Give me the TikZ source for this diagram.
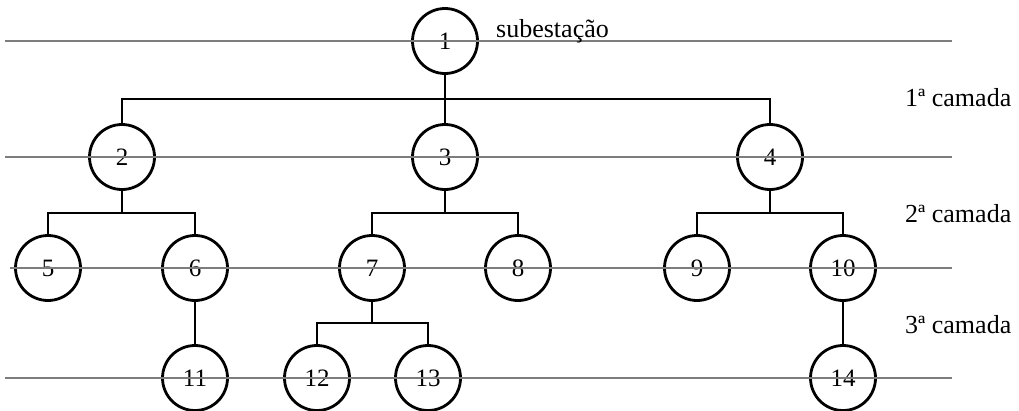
\documentclass[tikz,border=0pt]{standalone}
\usepackage{fontspec}
\setmainfont{Liberation Serif}
\definecolor{layergray}{RGB}{125,125,125}
\begin{document}
\begin{tikzpicture}[x=1pt,y=-1pt,
  nd/.style={circle,draw,line width=2.8pt,minimum size=65pt,inner sep=0pt,font=\fontsize{25}{25}\selectfont},
  conn/.style={line width=1.5pt},
  layer/.style={draw=layergray,line width=1.4pt},
  lbl/.style={font=\fontsize{26}{26}\selectfont,anchor=base west,inner sep=0pt}]
\useasboundingbox (0,0) rectangle (1019,410);
% nodes
\node[nd] (n1) at (445,41) {1};
\node[nd] (n2) at (122,157) {2};
\node[nd] (n3) at (445,157) {3};
\node[nd] (n4) at (770,157) {4};
\node[nd] (n5) at (48,268) {5};
\node[nd] (n6) at (195,268) {6};
\node[nd] (n7) at (372,268) {7};
\node[nd] (n8) at (518,268) {8};
\node[nd] (n9) at (697,268) {9};
\node[nd] (n10) at (843,268) {10};
\node[nd] (n11) at (195,378) {11};
\node[nd] (n12) at (317,378) {12};
\node[nd] (n13) at (428,378) {13};
\node[nd] (n14) at (843,378) {14};
% branch points
\coordinate (b1) at (445,99);
\coordinate (b2) at (122,213);
\coordinate (b3) at (445,213);
\coordinate (b4) at (770,213);
\coordinate (b7) at (372,323);
% connectors
\draw[conn] (n1.south) -- (b1);
\draw[conn] (n2.north) |- (b1) -| (n4.north);
\draw[conn] (b1) -- (n3.north);
\draw[conn] (n2.south) -- (b2);
\draw[conn] (n5.north) |- (b2) -| (n6.north);
\draw[conn] (n3.south) -- (b3);
\draw[conn] (n7.north) |- (b3) -| (n8.north);
\draw[conn] (n4.south) -- (b4);
\draw[conn] (n9.north) |- (b4) -| (n10.north);
\draw[conn] (n6.south) -- (n11.north);
\draw[conn] (n7.south) -- (b7);
\draw[conn] (n12.north) |- (b7) -| (n13.north);
\draw[conn] (n10.south) -- (n14.north);
% layer lines
\coordinate (l1a) at (5,41);   \coordinate (l1b) at (952,41);
\coordinate (l2a) at (5,157);  \coordinate (l2b) at (952,157);
\coordinate (l3a) at (10,268); \coordinate (l3b) at (952,268);
\coordinate (l4a) at (5,378);  \coordinate (l4b) at (952,378);
\draw[layer] (l1a) -- (l1b);
\draw[layer] (l2a) -- (l2b);
\draw[layer] (l3a) -- (l3b);
\draw[layer] (l4a) -- (l4b);
% labels
\node[lbl] (sub) at (496,37) {subestação};
\node[lbl] (c1) at (905,106) {1ª camada};
\node[lbl] (c2) at (905,222) {2ª camada};
\node[lbl] (c3) at (905,333) {3ª camada};
\end{tikzpicture}
\end{document}
